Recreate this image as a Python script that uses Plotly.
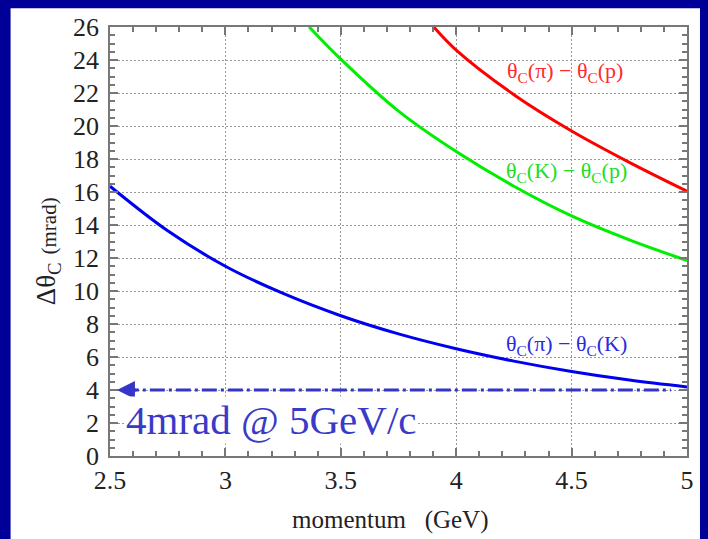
import plotly.graph_objects as go

# momentum (GeV) and Cherenkov angle differences (mrad)
p_pi_k = [2.5, 2.75, 3.0, 3.25, 3.5, 3.75, 4.0, 4.25, 4.5, 4.75, 5.0]
d_pi_k = [16.35, 13.65, 11.5, 9.85, 8.5, 7.4, 6.5, 5.75, 5.12, 4.6, 4.18]

p_k_p = [3.363, 3.5, 3.75, 4.0, 4.25, 4.5, 4.75, 5.0]
d_k_p = [26.0, 24.05, 20.9, 18.45, 16.35, 14.55, 13.1, 11.85]

p_pi_p = [3.903, 4.0, 4.25, 4.5, 4.75, 5.0]
d_pi_p = [26.0, 24.6, 21.9, 19.7, 17.8, 16.05]

req_p = [2.56, 4.93]
req_d = [4.0, 4.0]
req_text = "4mrad @ 5GeV/c"

x_ticks = [2.5, 3, 3.5, 4, 4.5, 5]
x_tick_text = ["2.5", "3", "3.5", "4", "4.5", "5"]
y_ticks = list(range(0, 27, 2))

x_title = "momentum   (GeV)"
y_title_sym = "Δθ<sub>C</sub>"
y_title_unit = "(mrad)"

SERIF = "Liberation Serif, Times New Roman, serif"
BG = "#000099"
DASHBLUE = "#3535c8"

fig = go.Figure()
fig.add_trace(go.Scatter(x=p_pi_k, y=d_pi_k, mode="lines",
                         line=dict(color="#0000f0", width=3, shape="spline"),
                         showlegend=False))
fig.add_trace(go.Scatter(x=p_k_p, y=d_k_p, mode="lines",
                         line=dict(color="#00ee00", width=3, shape="spline"),
                         showlegend=False))
fig.add_trace(go.Scatter(x=p_pi_p, y=d_pi_p, mode="lines",
                         line=dict(color="#ff0000", width=3, shape="spline"),
                         showlegend=False))
fig.add_trace(go.Scatter(x=req_p, y=req_d, mode="lines",
                         line=dict(color=DASHBLUE, width=3, dash="15px,4px,3px,4px"),
                         showlegend=False))

# white panel behind the plot
fig.add_shape(type="rect", xref="paper", yref="paper",
              x0=-0.1723, x1=1.0225, y0=-0.25, y1=1.0436,
              fillcolor="white", line=dict(width=0), layer="below")

# arrow head
fig.add_annotation(x=2.53, y=4, ax=2.62, ay=4, axref="x", ayref="y",
                   xref="x", yref="y", text="", showarrow=True,
                   arrowhead=2, arrowsize=1.2, arrowwidth=3, arrowcolor=DASHBLUE)

fig.add_annotation(x=2.565, y=2.2, xref="x", yref="y", text=req_text,
                   showarrow=False, xanchor="left", yanchor="middle",
                   font=dict(family=SERIF, size=41, color="#3a3ac8"),
                   bgcolor="white", borderpad=0)

labels = [
    (4.47, 23.25, "θ<sub>C</sub>(π) − θ<sub>C</sub>(p)", "#ff2a2a"),
    (4.48, 17.2, "θ<sub>C</sub>(K) − θ<sub>C</sub>(p)", "#22dd22"),
    (4.48, 6.7, "θ<sub>C</sub>(π) − θ<sub>C</sub>(K)", "#2a2ae0"),
]
for lx, ly, lt, lc in labels:
    fig.add_annotation(x=lx, y=ly, xref="x", yref="y", text=lt, showarrow=False,
                       font=dict(family=SERIF, size=22, color=lc))

# axis titles
fig.add_annotation(x=0.486, y=-0.149, xref="paper", yref="paper", text=x_title,
                   showarrow=False, xanchor="center", yanchor="middle",
                   font=dict(family=SERIF, size=25, color="#222"))
fig.add_annotation(x=-0.108, y=0.402, xref="paper", yref="paper", text=y_title_sym,
                   showarrow=False, xanchor="center", yanchor="middle", textangle=-90,
                   font=dict(family=SERIF, size=27, color="#222"))
fig.add_annotation(x=-0.105, y=0.536, xref="paper", yref="paper", text=y_title_unit,
                   showarrow=False, xanchor="center", yanchor="middle", textangle=-90,
                   font=dict(family=SERIF, size=21, color="#222"))

axis_common = dict(
    showline=True, linecolor="#777", linewidth=1.5, mirror="allticks",
    ticks="inside", ticklen=8, tickcolor="#777", tickwidth=1.5,
    showgrid=True, gridcolor="#999", griddash="2px,2px", gridwidth=1,
    zeroline=False,
    tickfont=dict(family=SERIF, size=26, color="#222"),
)

fig.update_xaxes(range=[2.5, 5], tickvals=x_ticks, ticktext=x_tick_text,
                 minor=dict(dtick=0.1, ticks="inside", ticklen=5, tickcolor="#777", showgrid=False),
                 **axis_common)
fig.update_yaxes(range=[0, 26], tickvals=y_ticks, ticklabelstandoff=4,
                 minor=dict(dtick=0.5, ticks="inside", ticklen=5, tickcolor="#777", showgrid=False),
                 **axis_common)

fig.update_layout(
    width=708, height=539,
    margin=dict(l=109.5, r=21, t=26.7, b=83.3, autoexpand=False),
    paper_bgcolor=BG, plot_bgcolor="white",
)

fig.write_html("out.html", config={"displayModeBar": False},
               post_script="document.body.style.margin='0';")
